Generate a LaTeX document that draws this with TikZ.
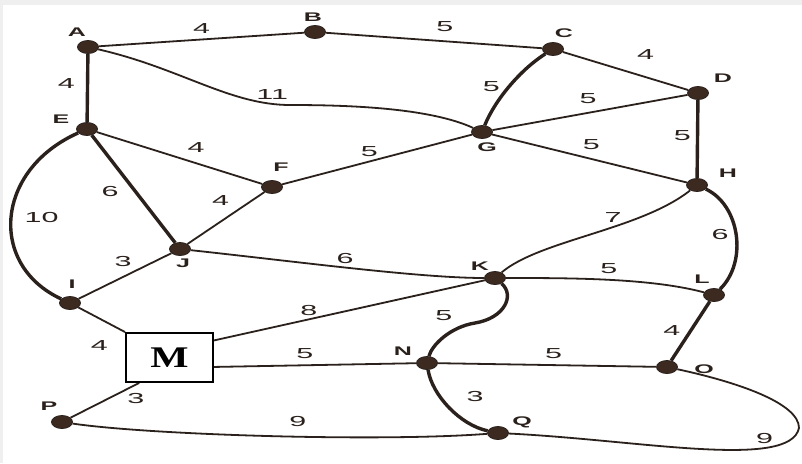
\documentclass[tikz,border=0pt]{standalone}
\usepackage{fontspec}
\setsansfont{Liberation Sans}
\newfontfamily\vertexfont[FakeStretch=2.0]{Liberation Sans}
\newfontfamily\weightfont[FakeStretch=2.1]{Liberation Sans}
\newfontfamily\boxfont[FakeStretch=1.35]{Liberation Serif}
\usepackage{tikz}
\usetikzlibrary{shapes.geometric,positioning,backgrounds}

\definecolor{ink}{HTML}{2B211C}
\definecolor{dotbrown}{HTML}{3C2A21}
\definecolor{scangray}{HTML}{EFEFEF}

\begin{document}
\begin{tikzpicture}[
        x=1pt, y=-1pt,
    % vertices: small dark oval dots, names set beside them
        dot/.style={ellipse, draw=ink, fill=dotbrown, line width=0.8pt,
        minimum width=21pt, minimum height=13pt, inner sep=0pt},
        vname/.style={font=\fontsize{12.5}{13}\vertexfont\bfseries, text=ink, inner sep=0pt},
        wt/.style={font=\fontsize{14.5}{15}\weightfont, text=ink, inner sep=1pt},
    % the one boxed vertex
        mbox/.style={draw=black, line width=2.4pt, fill=white,
        minimum width=86.5pt, minimum height=48.5pt, inner sep=0pt,
        font=\fontsize{30}{30}\boxfont\bfseries},
        edge/.style={draw=ink, line width=1.8pt},
        heavy/.style={draw=ink, line width=3.4pt}
    ]
\useasboundingbox (0,0) rectangle (802,463);

% --- vertices ---
    \node[dot] (A) at (88,47) {};
    \node[dot] (B) at (315,32) {};
    \node[dot] (C) at (553,49) {};
    \node[dot] (D) at (698,93) {};
    \node[dot] (E) at (87,129) {};
    \node[dot] (F) at (272,187) {};
    \node[dot] (G) at (482,132) {};
    \node[dot] (H) at (697,185) {};
    \node[dot] (I) at (70,303) {};
    \node[dot] (J) at (180,249) {};
    \node[dot] (K) at (495,278) {};
    \node[dot] (L) at (714,295) {};
    \node[dot] (N) at (427,363) {};
    \node[dot] (O) at (667,367) {};
    \node[dot] (P) at (62,422) {};
    \node[dot] (Q) at (498,433) {};
    \node[mbox] (M) at (169.5,357.5) {M};

% --- vertex names ---
    \node[vname] (lA) at (77,32) {A};
    \node[vname] (lB) at (313,17) {B};
    \node[vname] (lC) at (564,33) {C};
    \node[vname] (lD) at (723,78) {D};
    \node[vname] (lE) at (61,119) {E};
    \node[vname] (lF) at (281,167) {F};
    \node[vname] (lG) at (487,147) {G};
    \node[vname] (lH) at (728,173) {H};
    \node[vname] (lI) at (72,284) {I};
    \node[vname] (lJ) at (183,263) {J};
    \node[vname] (lK) at (480,266) {K};
    \node[vname] (lL) at (702,279) {L};
    \node[vname] (lN) at (403,351) {N};
    \node[vname] (lO) at (704,369) {O};
    \node[vname] (lP) at (49,406) {P};
    \node[vname] (lQ) at (522,422) {Q};

    \begin{pgfonlayer}{background}
    \fill[scangray] (0,0) rectangle (802,463);
    \fill[white] (3,5) rectangle (802,463);

% --- upper part ---
    \draw[edge] (A) -- node[wt, above=4pt] {4} (B);
    \draw[edge] (B) -- node[wt, pos=.55, above=8pt] {5} (C);
    \draw[edge] (C) -- node[wt, pos=.66, above=16pt] {4} (D);
    \draw[heavy] (A) -- node[wt, pos=.44, left=10pt] {4} (E);
    \draw[edge] (A) .. controls (180,68) and (230,105) .. (290,105)
        node[wt, pos=.9, above=3pt] {11}
        .. controls (350,105) and (430,108) .. (G);
    \draw[heavy] (C) .. controls (520,70) and (495,100) .. (G) node[wt, pos=.5, left=7pt] {5};
    \draw[edge] (D) -- node[wt, pos=.51, above=7pt] {5} (G);
    \draw[heavy] (D) -- node[wt, pos=.46, left=4pt] {5} (H);
    \draw[edge] (G) -- node[wt, pos=.51, above=7pt] {5} (H);
    \draw[edge] (E) -- node[wt, pos=.6, above=9pt] {4} (F);
    \draw[edge] (F) -- node[wt, pos=.46, above=3pt] {5} (G);
    \draw[heavy] (E) -- node[wt, pos=.52, left=14pt] {6} (J);
    \draw[edge] (F) -- node[wt, pos=.57, above=14pt] {4} (J);
    \draw[heavy] (E) .. controls (-5,170) and (-12,265) .. (I) node[wt, pos=.5, right=11pt] {10};

% --- middle part ---
    \draw[edge] (H) .. controls (640,230) and (540,240) .. (K) node[wt, pos=.4, above=3pt] {7};
    \draw[heavy] (H) .. controls (740,205) and (748,262) .. (L) node[wt, pos=.5, left=5pt] {6};
    \draw[edge] (I) -- node[wt, pos=.48, above=8pt] {3} (J);
    \draw[edge] (J) .. controls (300,262) and (420,278) .. (K) node[wt, pos=.47, above=2pt] {6};
    \draw[edge] (K) .. controls (570,278) and (650,278) .. (L) node[wt, pos=.5, above=4pt] {5};
    \draw[edge] (I) -- node[wt, pos=.45, below=20pt] {4} (M.north west);
    \draw[edge] (M.21) -- node[wt, pos=.35, above=2pt] {8} (K);
    \draw[heavy] (K) .. controls (515,295) and (505,318) .. (475,323)
        node[wt, above left=0pt and 20pt] {5}
        .. controls (450,327) and (432,345) .. (N);

% --- lower part ---
    \draw[edge] (M.-12) -- node[wt, pos=.45, above=5pt] {5} (N);
    \draw[edge] (N) -- node[wt, pos=.53, above=5pt] {5} (O);
    \draw[heavy] (L) -- node[wt, pos=.49, left=8pt] {4} (O);
    \draw[edge] (M.-140) -- node[wt, pos=.05, below=7pt] {3} (P);
    \draw[heavy] (N) .. controls (432,395) and (460,425) .. (Q) node[wt, pos=.5, above right=3pt and 15pt] {3};
    \draw[edge] (P) .. controls (150,435) and (380,442) .. (Q) node[wt, pos=.56, above=8pt] {9};
    \draw[edge] (O) .. controls (737,382) and (799,403) .. (799,428)
        node[wt, below left=3pt and 24pt] {9}
        .. controls (790,470) and (640,440) .. (Q);
    \end{pgfonlayer}
\end{tikzpicture}
\end{document}
